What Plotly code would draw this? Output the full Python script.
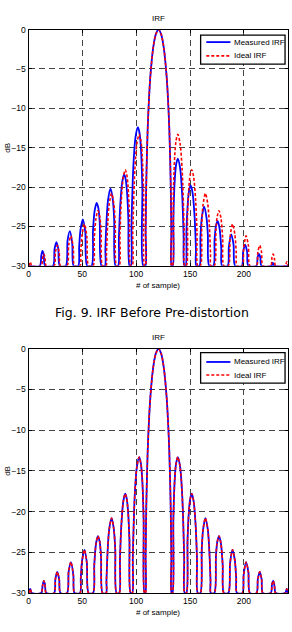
import plotly.graph_objects as go

# ---------------- data ----------------
# Ideal IRF (red dashed), same in both panels
ideal_sample = [0.25, 1.6, 2.99,
                11.89, 13.02, 14.15, 15.28, 16.42,
                23.79, 24.94, 26.70, 28.46, 29.64,
                35.80, 37.24, 39.38, 41.63, 42.75,
                47.85, 48.54, 49.79, 51.93, 54.18, 55.82,
                59.96, 61.09, 62.72, 64.48, 66.11, 67.36, 68.82,
                72.08, 72.38, 73.64, 74.89, 77.15, 79.28, 80.54, 81.79,
                84.24, 84.93, 86.19, 88.07, 89.83, 91.21, 92.46, 93.72, 94.78,
                96.35, 96.85, 98.74, 100.62, 102.75, 104.38, 105.64, 106.89, 107.71,
                108.54, 108.78, 109.40, 110.66, 111.91, 113.17, 115.68, 118.19, 120.7,
                123.21, 125.72, 128.23, 129.49, 130.74, 132.0, 132.62, 132.86,
                133.69, 134.51, 135.76, 137.02, 138.65, 140.78, 142.66, 144.55, 145.05,
                146.62, 147.68, 148.94, 150.19, 151.57, 153.33, 155.21, 156.47, 157.16,
                159.61, 160.86, 162.12, 164.25, 166.51, 167.76, 169.02, 169.32,
                172.58, 174.04, 175.29, 176.92, 178.68, 180.31, 181.44,
                185.58, 187.22, 189.47, 191.61, 192.86, 193.55,
                198.65, 199.77, 202.02, 204.16, 205.60,
                211.76, 212.94, 214.70, 216.46, 217.61,
                224.98, 226.12, 227.25, 228.38, 229.51,
                238.41, 239.8, 241.0]
ideal_db = [-30, -29.5, -30,
            -30, -29.1, -28.5, -28.9, -30,
            -30, -28.3, -27.4, -28.3, -30,
            -30, -27.4, -26.2, -27.8, -30,
            -30, -28.2, -26.0, -24.7, -26.3, -30,
            -30, -26.5, -23.9, -23.0, -23.7, -25.5, -30,
            -30, -28.5, -24.4, -22.2, -20.8, -22.2, -24.7, -30,
            -30, -25.9, -21.7, -18.7, -17.8, -18.4, -20.0, -23.5, -30,
            -30, -25.7, -17.8, -14.5, -13.3, -14.1, -16.1, -21.0, -30,
            -30, -25.6, -19.2, -12.6, -8.7, -5.9, -2.4, -0.6, 0.0,
            -0.6, -2.4, -5.9, -8.7, -12.6, -19.2, -25.6, -30,
            -30, -21.0, -16.1, -14.1, -13.3, -14.5, -17.8, -25.7, -30,
            -30, -23.5, -20.0, -18.4, -17.8, -18.7, -21.7, -25.9, -30,
            -30, -24.7, -22.2, -20.8, -22.2, -24.4, -28.5, -30,
            -30, -25.5, -23.7, -23.0, -23.9, -26.5, -30,
            -30, -26.3, -24.7, -26.0, -28.2, -30,
            -30, -27.8, -26.2, -27.4, -30,
            -30, -28.3, -27.4, -28.3, -30,
            -30, -28.9, -28.5, -29.1, -30,
            -30, -29.5, -30]

# Measured IRF before pre-distortion (blue, top panel)
before_sample = [0.0,
                 10.5, 11.82, 12.95, 14.08, 15.4,
                 22.8, 24.14, 25.9, 27.66, 29.0,
                 34.65, 36.24, 38.38, 40.63, 41.9,
                 46.2, 47.04, 48.29, 50.43, 52.68, 54.45,
                 58.6, 59.89, 61.52, 63.28, 64.91, 66.16, 67.8,
                 71.0, 71.38, 72.64, 73.89, 76.15, 78.28, 79.54, 80.79,
                 83.24, 83.93, 85.19, 87.07, 88.83, 90.21, 91.46, 92.72, 93.78,
                 95.1, 95.65, 97.54, 99.42, 101.55, 103.18, 104.44, 105.69, 106.51,
                 108.54, 108.78, 109.40, 110.66, 111.91, 113.17, 115.68, 118.19, 120.7,
                 123.21, 125.72, 128.23, 129.49, 130.74, 132.0, 132.62, 132.86,
                 134.0, 134.51, 135.76, 137.02, 138.65, 140.78, 142.66, 144.0, 144.7,
                 145.95, 146.68, 147.94, 149.19, 150.57, 152.33, 154.21, 155.47, 155.8,
                 158.8, 159.66, 160.92, 163.05, 165.31, 166.56, 167.8,
                 171.7, 172.74, 173.99, 175.62, 177.38, 179.01, 179.7,
                 184.96, 186.02, 188.27, 190.41, 191.85,
                 198.1, 199.24, 201.12, 203.0, 204.1,
                 211.72, 212.74, 214.0, 215.26, 216.28,
                 225.6, 226.8, 228.0,
                 241.0]
before_db = [-30,
             -30, -28.7, -28.1, -28.5, -30,
             -30, -27.9, -27.0, -27.9, -30,
             -30, -26.8, -25.6, -27.2, -30,
             -30, -27.6, -25.4, -24.1, -25.7, -30,
             -30, -25.5, -22.9, -22.0, -22.7, -24.5, -30,
             -30, -27.9, -23.8, -21.6, -20.2, -21.6, -24.1, -30,
             -30, -26.5, -22.3, -19.3, -18.4, -19.0, -20.6, -24.1, -30,
             -30, -24.8, -16.9, -13.6, -12.4, -13.2, -15.2, -20.1, -30,
             -30, -25.6, -19.2, -12.6, -8.7, -5.9, -2.4, -0.6, 0.0,
             -0.6, -2.4, -5.9, -8.7, -12.6, -19.2, -25.6, -30,
             -30, -24.1, -19.2, -17.2, -16.4, -17.6, -20.9, -26.1, -30,
             -30, -25.5, -22.0, -20.4, -19.8, -20.7, -23.7, -27.9, -30,
             -30, -26.4, -23.9, -22.5, -23.9, -26.1, -30,
             -30, -26.8, -25.0, -24.3, -25.2, -27.8, -30,
             -30, -27.6, -26.0, -27.3, -30,
             -30, -28.3, -27.3, -28.2, -30,
             -30, -28.9, -28.5, -28.9, -30,
             -30, -29.6, -30,
             -30]

# Measured IRF after pre-distortion (blue, bottom panel) overlaps the ideal one
after_sample = list(ideal_sample)
after_db = list(ideal_db)

x_ticks = [0, 50, 100, 150, 200]
y_ticks = [0, -5, -10, -15, -20, -25, -30]
x_range = [0, 241]
y_range = [-30, 0]
series_names = ["Measured IRF", "Ideal IRF"]

# ---------------- figure ----------------
W, H = 292, 632
FONT = "Liberation Sans, Arial, sans-serif"
BLUE = "#0000ff"
RED = "#ff0000"
RED_DASH = "3px,2px"

fig = go.Figure()
fig.add_trace(go.Scatter(x=before_sample, y=before_db, mode="lines", name=series_names[0],
                         line=dict(color=BLUE, width=1.8, shape="spline", smoothing=0.8),
                         xaxis="x", yaxis="y"))
fig.add_trace(go.Scatter(x=ideal_sample, y=ideal_db, mode="lines", name=series_names[1],
                         line=dict(color=RED, width=1.6, dash=RED_DASH, shape="spline", smoothing=0.8),
                         xaxis="x", yaxis="y"))
fig.add_trace(go.Scatter(x=after_sample, y=after_db, mode="lines", name=series_names[0],
                         line=dict(color=BLUE, width=1.8, shape="spline", smoothing=0.8),
                         xaxis="x2", yaxis="y2"))
fig.add_trace(go.Scatter(x=ideal_sample, y=ideal_db, mode="lines", name=series_names[1],
                         line=dict(color=RED, width=1.6, dash=RED_DASH, shape="spline", smoothing=0.8),
                         xaxis="x2", yaxis="y2"))

xd = [26.7 / W, 288 / W]
top_dom = [1 - 265 / H, 1 - 25 / H]
bot_dom = [1 - 597.5 / H, 1 - 349.3 / H]

axis_common = dict(showline=True, linecolor="black", linewidth=1, mirror="ticks",
                   ticks="inside", ticklen=3, tickcolor="black",
                   showgrid=True, gridcolor="#444444", gridwidth=1, griddash="6px,4px",
                   zeroline=False, tickfont=dict(family=FONT, size=8.5, color="black"))

fig.update_layout(
    width=W, height=H,
    margin=dict(l=0, r=0, t=0, b=0),
    paper_bgcolor="white", plot_bgcolor="white",
    showlegend=False,
    xaxis=dict(domain=xd, anchor="y", range=x_range, tickvals=x_ticks, **axis_common),
    yaxis=dict(domain=top_dom, anchor="x", range=y_range, tickvals=y_ticks, **axis_common),
    xaxis2=dict(domain=xd, anchor="y2", range=x_range, tickvals=x_ticks, **axis_common),
    yaxis2=dict(domain=bot_dom, anchor="x2", range=y_range, tickvals=y_ticks, **axis_common),
)


def py(p):
    return 1 - p / H


def px(p):
    return p / W


cx = (26.7 + 288) / 2 / W
txt = dict(family=FONT, size=8, color="black")
ann = []
shapes = []
for ytitle, ylab, yx, box, rows in [(14, 145, 285, (30.7, 60.0), (37.7, 51.7)),
                                    (338, 473.4, 617, (353.3, 384.3), (362.7, 376.0))]:
    ann.append(dict(text="IRF", x=cx, y=py(ytitle), xref="paper", yref="paper",
                    xanchor="center", yanchor="middle", showarrow=False, font=txt))
    ann.append(dict(text="dB", x=px(6), y=py(ylab), xref="paper", yref="paper",
                    xanchor="center", yanchor="middle", showarrow=False, textangle=-90, font=txt))
    ann.append(dict(text="# of sample)", x=cx, y=py(yx), xref="paper", yref="paper",
                    xanchor="center", yanchor="middle", showarrow=False, font=txt))
    # legend box
    shapes.append(dict(type="rect", xref="paper", yref="paper",
                       x0=px(200), x1=px(285), y0=py(box[1]), y1=py(box[0]),
                       line=dict(color="black", width=1.3), fillcolor="white", layer="above"))
    shapes.append(dict(type="line", xref="paper", yref="paper",
                       x0=px(205.7), x1=px(230), y0=py(rows[0]), y1=py(rows[0]),
                       line=dict(color=BLUE, width=1.8), layer="above"))
    shapes.append(dict(type="line", xref="paper", yref="paper",
                       x0=px(205.7), x1=px(230), y0=py(rows[1]), y1=py(rows[1]),
                       line=dict(color=RED, width=1.6, dash=RED_DASH), layer="above"))
    for name, ry in zip(series_names, rows):
        ann.append(dict(text=name, x=px(231.5), y=py(ry), xref="paper", yref="paper",
                        xanchor="left", yanchor="middle", showarrow=False, font=txt))

ann.append(dict(text="Fig. 9. IRF Before Pre-distortion", x=px(151), y=py(312.7),
                xref="paper", yref="paper", xanchor="center", yanchor="middle", showarrow=False,
                font=dict(family="DejaVu Sans, sans-serif", size=12.5, color="black")))
fig.update_layout(annotations=ann, shapes=shapes)

fig.write_html("out.html")
